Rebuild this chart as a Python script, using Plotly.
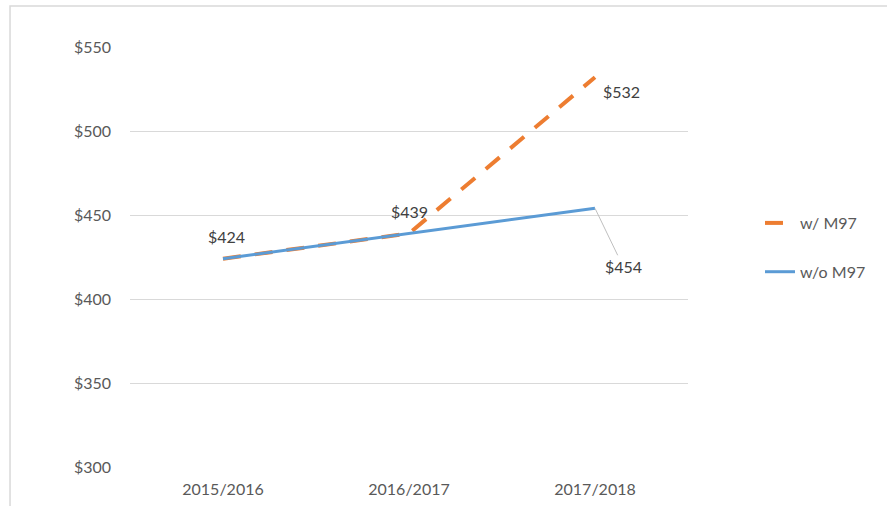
import plotly.graph_objects as go

categories = ["2015/2016", "2016/2017", "2017/2018"]
with_m97 = [424, 439, 532]
without_m97 = [424, 439, 454]
y_ticks = [300, 350, 400, 450, 500, 550]
y_tick_labels = ["$" + str(v) for v in y_ticks]

FONT = "Lato"
AXIS_COLOR = "#595959"
LABEL_COLOR = "#404040"
GRID = "#d9d9d9"

fig = go.Figure()
fig.add_trace(go.Scatter(
    x=categories, y=with_m97, mode="lines", name="w/ M97",
    line=dict(color="#ed7d31", width=4, dash="18px,14px"),
    legendgroup="a",
))
fig.add_trace(go.Scatter(
    x=categories, y=without_m97, mode="lines", name="w/o M97",
    line=dict(color="#5b9bd5", width=3),
    legendgroup="b",
))

# data labels
lab_font = dict(family=FONT, size=16, color=LABEL_COLOR)
fig.add_annotation(x=categories[0], y=with_m97[0], text="$" + str(with_m97[0]),
                   showarrow=False, xshift=3, yshift=22, font=lab_font)
fig.add_annotation(x=categories[1], y=with_m97[1], text="$" + str(with_m97[1]),
                   showarrow=False, xshift=0, yshift=22, font=lab_font)
fig.add_annotation(x=categories[2], y=with_m97[2], text="$" + str(with_m97[2]),
                   showarrow=False, xshift=26, yshift=-14, font=lab_font)
fig.add_annotation(x=categories[2], y=without_m97[2], text="$" + str(without_m97[2]),
                   showarrow=True, arrowhead=0, arrowwidth=1, arrowcolor="#bfbfbf",
                   ax=28, ay=58, standoff=0, font=lab_font)

# chart border
fig.add_shape(type="rect", xref="paper", yref="paper",
              x0=-0.215, x1=1.40, y0=-0.15, y1=1.0976,
              line=dict(color=GRID, width=1.5), fillcolor="rgba(0,0,0,0)", layer="below")

fig.update_layout(
    width=887, height=506,
    margin=dict(l=130, r=199, t=47, b=39, autoexpand=False),
    paper_bgcolor="white", plot_bgcolor="white",
    font=dict(family=FONT, size=16, color=AXIS_COLOR),
    showlegend=True,
    legend=dict(x=1.129, xanchor="left", y=0.5226, yanchor="middle",
                tracegroupgap=25, font=dict(family=FONT, size=16, color=AXIS_COLOR),
                bgcolor="rgba(0,0,0,0)"),
    xaxis=dict(type="category", range=[-0.5, 2.5], showgrid=False, showline=False,
               zeroline=False, ticks="", ticklabelstandoff=11, automargin=False,
               tickfont=dict(family=FONT, size=16, color=AXIS_COLOR)),
    yaxis=dict(range=[300, 550], tickvals=y_ticks, ticktext=y_tick_labels,
               showgrid=True, gridcolor=GRID, gridwidth=1, zeroline=False,
               showline=False, ticks="", ticklabelstandoff=18, automargin=False,
               tickfont=dict(family=FONT, size=16, color=AXIS_COLOR)),
)

fig.write_html("out.html",
               config={"displayModeBar": False},
               post_script="document.body.style.margin='0';document.body.style.overflow='hidden';")
